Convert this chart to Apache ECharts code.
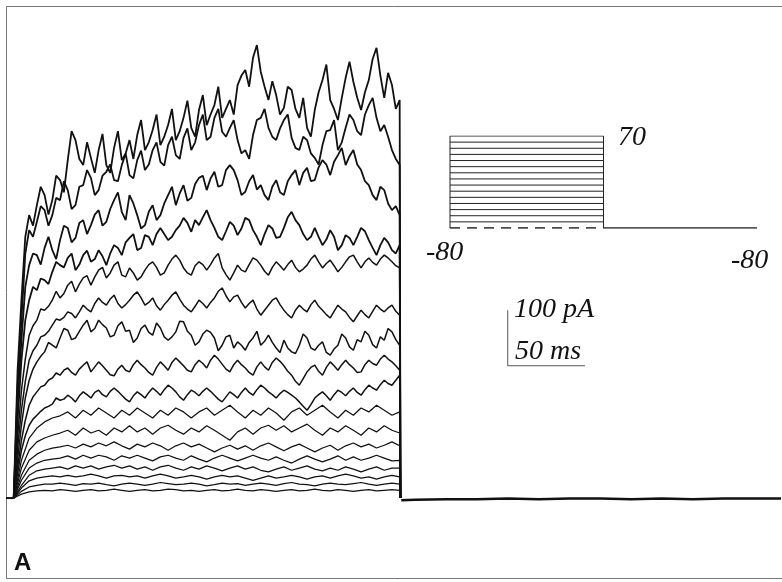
<!DOCTYPE html>
<html>
<head>
<meta charset="utf-8">
<script src="https://cdn.jsdelivr.net/npm/echarts@6/dist/echarts.min.js"></script>
<style>
  html, body { margin: 0; padding: 0; background: #fff; }
  #chart { width: 782px; height: 582px; }
</style>
</head>
<body>
<div id="chart"></div>
<script>
// Sample times during the voltage step (ms): fine grid for the large sweeps, coarse for the small ones
const fineTimes = [0, 2.5, 5, 7.5, 10, 12.5, 15, 17.5, 20, 22.5, 25, 27.5, 30, 32.5, 35, 37.5, 40, 42.5, 45, 47.5,
  50, 52.5, 55, 57.5, 60, 62.5, 65, 67.5, 70, 72.5, 75, 77.5, 80, 82.5, 85, 87.5, 90, 92.5, 95, 97.5,
  100, 102.5, 105, 107.5, 110, 112.5, 115, 117.5, 120, 122.5, 125, 127.5, 130, 132.5, 135, 137.5, 140, 142.5, 145, 147.5,
  150, 152.5, 155, 157.5, 160, 162.5, 165, 167.5, 170, 172.5, 175, 177.5, 180, 182.5, 185, 187.5, 190, 192.5, 195, 197.5,
  200, 202.5, 205, 207.5, 210, 212.5, 215, 217.5, 220, 222.5, 225, 227.5, 230, 232.5, 235, 237.5, 240, 242.5, 245, 247.5, 250];
const coarseTimes = [0, 5, 10, 15, 20, 25, 30, 35, 40, 45, 50, 55, 60, 65, 70, 75, 80, 85, 90, 95,
  100, 105, 110, 115, 120, 125, 130, 135, 140, 145, 150, 155, 160, 165, 170, 175, 180, 185, 190, 195,
  200, 205, 210, 215, 220, 225, 230, 235, 240, 245, 250];

// Whole-cell currents (pA), one sweep per step potential, largest first
const trace1 = [0,230,356,470,509,490,527,560,545,510, 536,580,572,550,608,660,644,610,599,640,
  612,585,626,655,599,585,630,660,608,620, 644,610,653,680,626,640,662,690,635,650,
  671,700,644,660,684,715,666,650,698,725, 671,690,707,740,684,700,716,690,743,760,
  770,740,792,815,767,740,716,750,725,690, 702,740,734,700,684,720,666,650,698,730,
  752,780,716,700,680,720,756,785,749,720, 698,730,752,790,810,760,720,765,743,700, 716];
const trace2 = [0,200,320,440,482,470,497,525,518,490, 509,540,536,570,554,520,527,560,563,590,
  576,545,554,580,587,600,572,570,599,620, 581,575,608,625,590,600,626,640,605,598,
  635,650,617,610,648,665,626,640,671,690, 644,650,684,700,659,650,666,680,644,620,
  626,610,653,680,684,700,666,650,644,665, 680,690,648,630,626,650,644,620,612,600,
  635,660,662,680,626,640,666,690,680,660, 653,690,707,720,684,660,671,650,626,610, 599];
const trace3 = [0,170,284,380,419,440,437,420,450,470, 446,430,464,490,486,460,468,495,500,475,
  491,510,518,490,497,520,536,550,515,500, 545,530,509,485,491,515,527,500,509,530,
  545,560,527,548,563,535,540,565,576,580, 554,575,587,560,563,590,599,590,572,545,
  551,570,581,555,563,545,536,560,572,550, 545,570,581,590,563,585,594,570,572,595,
  608,600,581,605,617,630,599,615,626,600, 590,570,563,545,536,560,554,530,518,525, 509];
const trace4 = [0,140,248,320,356,380,374,395,392,385, 407,425,419,415,432,440,410,420,437,445,
  425,430,446,435,419,440,455,450,437,460, 468,475,446,450,473,470,455,475,486,475,
  464,470,482,490,504,495,479,500,491,505, 518,500,486,470,464,480,497,490,473,485,
  504,500,482,470,455,475,491,485,468,470, 486,505,515,500,491,475,464,470,486,470,
  455,465,482,470,446,455,473,468,455,470, 486,480,464,450,437,455,468,460,446,440, 455];
const trace5 = [0,110,194,250,293,310,320,340,338,345, 356,372,360,368,383,390,371,385,396,400,
  383,398,410,415,396,405,419,425,401,398, 414,405,392,398,410,420,425,415,401,405,
  419,430,437,428,414,405,401,418,425,420, 410,420,432,440,414,402,392,405,419,410,
  407,420,432,428,419,408,401,415,425,418, 410,420,428,415,407,412,419,430,437,425,
  414,422,428,418,407,415,425,434,437,425, 414,425,432,424,419,430,437,432,425,418, 414];
const trace6 = [0,90,158,210,248,265,275,290,293,300, 311,322,320,325,335,332,324,335,347,340,
  335,350,360,352,347,358,365,350,342,348, 356,365,371,360,347,352,360,346,338,348,
  356,365,371,358,347,340,335,345,356,350, 342,352,360,372,378,364,353,362,365,352,
  342,350,356,340,329,338,347,356,360,348, 338,330,324,338,347,340,335,348,356,345,
  338,330,324,336,347,340,335,325,317,328, 338,330,324,336,347,340,335,342,347,336, 329];
const trace7 = [0,70,131,180,212,232,245,255,263,280, 275,270,288,305,302,285,288,300,311,320,
  299,305,320,312,306,290,293,310,317,300, 302,280,288,305,311,298,293,315,306,290,
  284,290,299,318,317,300,293,275,281,295, 302,298,288,265,275,290,293,270,281,275,
  266,280,288,300,275,282,293,280,270,262, 284,270,263,260,275,295,288,270,266,275,
  281,262,257,268,275,295,288,272,266,285, 281,300,293,276,270,290,284,305,299,285, 275];
const trace8 = [0,55,104,140,167,182,191,200,203,212, 216,225,221,230,234,226,221,232,239,245,
  227,236,245,238,230,222,220,232,239,230, 227,240,248,240,234,226,221,235,245,238,
  230,244,252,245,238,230,227,240,248,242, 234,248,257,250,241,232,227,240,248,240,
  234,226,221,236,245,236,230,244,252,246, 238,228,221,210,203,215,227,235,239,228,
  221,235,245,238,230,240,248,240,234,226, 227,240,248,242,239,250,257,250,245,238, 230];
const trace9 = [0,45,86,112,131,142,149,156,162,165, 169,180,176,178,185,180,173,184,191,186,
  180,190,194,186,182,192,198,192,185,178, 173,184,191,186,180,190,198,192,185,195,
  203,198,191,182,176,186,194,190,184,192, 198,192,185,178,173,182,191,186,180,190,
  198,190,185,195,203,198,191,186,180,188, 194,190,185,180,173,165,158,168,180,186,
  191,184,176,186,194,190,184,192,198,190, 185,195,203,198,194,204,212,206,203,212, 221];
const trace10 = [0, 68, 108, 126, 137, 144, 148, 155, 144, 158, 149, 162, 153, 144, 158, 149, 162, 153, 144, 158, 149, 162, 155, 144, 155, 162, 149, 158, 167, 155, 144, 158, 149, 162, 153, 140, 155, 162, 149, 158, 167, 155, 144, 158, 149, 162, 155, 167, 158, 149, 155];
const trace11 = [0, 54, 86, 101, 108, 113, 117, 122, 113, 126, 117, 122, 113, 126, 119, 130, 119, 126, 115, 126, 131, 122, 115, 126, 119, 130, 122, 113, 104, 119, 126, 115, 126, 131, 122, 130, 119, 126, 133, 122, 113, 126, 119, 130, 122, 113, 126, 119, 130, 122, 117];
const trace12 = [0, 41, 68, 79, 86, 90, 92, 95, 90, 97, 92, 99, 94, 101, 94, 88, 97, 92, 99, 94, 86, 94, 99, 92, 97, 90, 83, 90, 95, 88, 94, 86, 94, 99, 92, 85, 92, 97, 90, 83, 90, 95, 86, 94, 99, 92, 97, 90, 95, 101, 94];
const trace13 = [0, 32, 54, 63, 68, 70, 72, 76, 70, 77, 72, 77, 74, 68, 76, 72, 77, 72, 67, 74, 77, 72, 68, 76, 70, 65, 72, 77, 72, 67, 72, 77, 72, 68, 74, 68, 63, 70, 76, 70, 65, 70, 76, 68, 74, 68, 72, 77, 72, 67, 68];
const trace14 = [0, 23, 41, 49, 52, 54, 56, 52, 58, 54, 58, 52, 56, 59, 54, 58, 52, 56, 50, 56, 59, 54, 50, 56, 52, 58, 54, 49, 54, 58, 52, 56, 50, 47, 52, 56, 50, 54, 58, 52, 49, 54, 50, 56, 52, 47, 52, 56, 50, 54, 54];
const trace15 = [0, 18, 31, 36, 38, 40, 38, 41, 38, 40, 43, 40, 36, 40, 41, 38, 40, 36, 40, 43, 40, 36, 38, 41, 38, 34, 38, 41, 38, 40, 36, 32, 36, 40, 36, 38, 41, 38, 34, 38, 40, 36, 40, 43, 40, 36, 38, 34, 38, 41, 38];
const trace16 = [0, 12, 20, 23, 25, 25, 27, 25, 23, 26, 25, 27, 24, 22, 25, 27, 25, 23, 25, 28, 26, 24, 25, 27, 25, 22, 24, 27, 25, 26, 23, 25, 27, 25, 23, 26, 28, 25, 24, 22, 25, 27, 25, 24, 26, 28, 25, 23, 25, 27, 25];
const trace17 = [0, 7, 11, 13, 14, 13, 15, 14, 12, 14, 15, 13, 14, 16, 14, 12, 14, 15, 13, 14, 16, 15, 13, 14, 12, 14, 15, 13, 14, 16, 14, 13, 15, 14, 12, 14, 15, 13, 14, 16, 14, 13, 15, 14, 12, 14, 15, 13, 14, 15, 14];

// Holding current before the step and after the return to -80 mV
const preTimes = [-5, 0];
const preCurrent = [0, 0];
const tailTimes = [251, 260, 280, 300, 320, 340, 360, 380, 400, 420, 440, 460, 480, 497];
const tailCurrent = [-4, -3, -2, -2, -1, -2, -1, -1, -2, -1, -2, -1, -1, -1];

// Scale bar: 100 pA by 50 ms
const scaleBarTimes = [320, 320, 370];
const scaleBarCurrents = [338, 238, 238];

// Voltage protocol (mV, ms)
const holdingPotential = -80;
const stepPotentials = [-70, -60, -50, -40, -30, -20, -10, 0, 10, 20, 30, 40, 50, 60, 70];
const stepDuration = 250;
const sweepDuration = 500;

const sweeps = [
  { values: trace1, times: fineTimes }, { values: trace2, times: fineTimes },
  { values: trace3, times: fineTimes }, { values: trace4, times: fineTimes },
  { values: trace5, times: fineTimes }, { values: trace6, times: fineTimes },
  { values: trace7, times: fineTimes }, { values: trace8, times: fineTimes },
  { values: trace9, times: fineTimes }, { values: trace10, times: coarseTimes },
  { values: trace11, times: coarseTimes }, { values: trace12, times: coarseTimes },
  { values: trace13, times: coarseTimes }, { values: trace14, times: coarseTimes },
  { values: trace15, times: coarseTimes }, { values: trace16, times: coarseTimes },
  { values: trace17, times: coarseTimes }
];

const chart = echarts.init(document.getElementById('chart'), null, { renderer: 'canvas' });

const series = [];

// Current sweeps: each rises at step onset and snaps back to holding at step end
sweeps.forEach((sw, k) => {
  const data = sw.times.map((t, i) => [t, sw.values[i]]);
  data.push([stepDuration + 0.5, 0]);
  series.push({
    type: 'line',
    name: 'sweep' + (k + 1),
    xAxisIndex: 0, yAxisIndex: 0,
    data: data,
    showSymbol: false,
    symbol: 'none',
    smooth: false,
    lineStyle: { color: '#111', width: k < 4 ? 1.8 : (k < 9 ? 1.5 : 1.25) },
    z: 3
  });
});

series.push({
  type: 'line', name: 'holding-pre', xAxisIndex: 0, yAxisIndex: 0,
  data: preTimes.map((t, i) => [t, preCurrent[i]]),
  symbol: 'none', lineStyle: { color: '#111', width: 2 }, z: 3
});
series.push({
  type: 'line', name: 'holding-tail', xAxisIndex: 0, yAxisIndex: 0,
  data: tailTimes.map((t, i) => [t, tailCurrent[i]]),
  symbol: 'none', lineStyle: { color: '#111', width: 2.5 }, z: 3
});
series.push({
  type: 'line', name: 'scale-bar', xAxisIndex: 0, yAxisIndex: 0,
  data: scaleBarTimes.map((t, i) => [t, scaleBarCurrents[i]]),
  symbol: 'none', lineStyle: { color: '#555', width: 1 }, z: 3
});

// Protocol inset: step lines, box edges, dashed holding level and return to holding
stepPotentials.forEach(v => {
  series.push({
    type: 'line', xAxisIndex: 1, yAxisIndex: 1,
    data: [[0, v], [stepDuration, v]],
    symbol: 'none', lineStyle: { color: '#222', width: 1 }
  });
});
const topStep = stepPotentials[stepPotentials.length - 1];
series.push({
  type: 'line', xAxisIndex: 1, yAxisIndex: 1,
  data: [[0, holdingPotential], [0, topStep]],
  symbol: 'none', lineStyle: { color: '#222', width: 1 }
});
series.push({
  type: 'line', xAxisIndex: 1, yAxisIndex: 1,
  data: [[stepDuration, holdingPotential], [stepDuration, topStep]],
  symbol: 'none', lineStyle: { color: '#222', width: 1 }
});
series.push({
  type: 'line', xAxisIndex: 1, yAxisIndex: 1,
  data: [[0, holdingPotential], [stepDuration, holdingPotential]],
  symbol: 'none', lineStyle: { color: '#111', width: 1.3, type: [10, 7] }
});
series.push({
  type: 'line', xAxisIndex: 1, yAxisIndex: 1,
  data: [[stepDuration, holdingPotential], [sweepDuration, holdingPotential]],
  symbol: 'none', lineStyle: { color: '#222', width: 1.3 }
});

const hiddenAxis = {
  show: false, splitLine: { show: false }, axisLine: { show: false },
  axisTick: { show: false }, axisLabel: { show: false }
};

const labelFont = 'italic 28px "Liberation Serif", "DejaVu Serif", serif';

chart.setOption({
  animation: false,
  backgroundColor: '#fff',
  grid: [
    { left: 6, right: 1, top: 0, bottom: 0 },
    { left: 450, top: 136, width: 307, height: 92 }
  ],
  xAxis: [
    Object.assign({ type: 'value', min: -5, max: 497, gridIndex: 0 }, hiddenAxis),
    Object.assign({ type: 'value', min: 0, max: sweepDuration, gridIndex: 1 }, hiddenAxis)
  ],
  yAxis: [
    Object.assign({ type: 'value', min: -151, max: 896, gridIndex: 0 }, hiddenAxis),
    Object.assign({ type: 'value', min: holdingPotential, max: topStep, gridIndex: 1 }, hiddenAxis)
  ],
  series: series,
  graphic: [
    { type: 'rect', silent: true, z: 0,
      shape: { x: 6.5, y: 6.5, width: 800, height: 572 },
      style: { fill: 'none', stroke: '#777', lineWidth: 1 } },
    { type: 'text', left: 618, top: 124, style: { text: '70', font: labelFont, fill: '#111' } },
    { type: 'text', left: 426, top: 239, style: { text: '-80', font: labelFont, fill: '#111' } },
    { type: 'text', left: 731, top: 247, style: { text: '-80', font: labelFont, fill: '#111' } },
    { type: 'text', left: 514, top: 296, style: { text: '100 pA', font: labelFont, fill: '#111' } },
    { type: 'text', left: 515, top: 338, style: { text: '50 ms', font: labelFont, fill: '#111' } },
    { type: 'text', left: 14, top: 551, style: { text: 'A', font: 'bold 24px "Liberation Sans", Arial, sans-serif', fill: '#111' } }
  ]
});
</script>
</body>
</html>
